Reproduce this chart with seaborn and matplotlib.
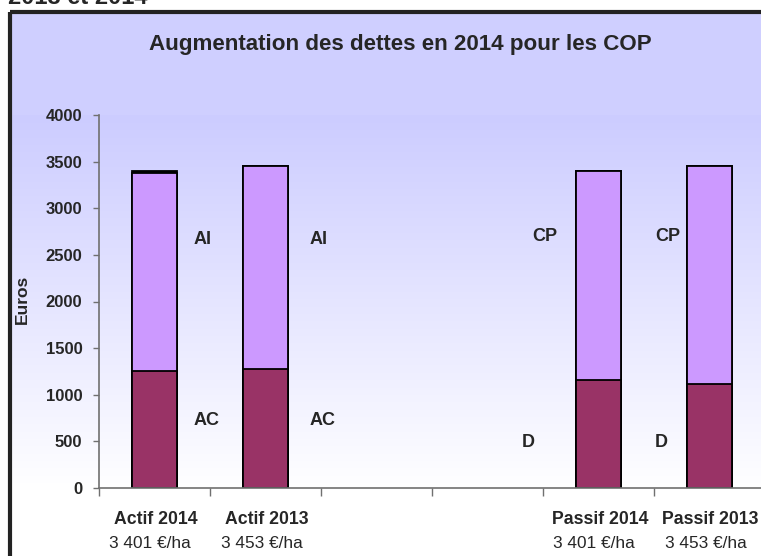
import numpy as np
import pandas as pd
import matplotlib
matplotlib.use("Agg")
import matplotlib.pyplot as plt
import matplotlib.transforms as mtransforms
from matplotlib.patches import Rectangle
import seaborn as sns

# ---------------- data ----------------
categories = ["Actif 2014", "Actif 2013", "vide 1", "vide 2", "Passif 2014", "Passif 2013"]
bar_cats = ["Actif 2014", "Actif 2013", "Passif 2014", "Passif 2013"]
lower_vals = [1255, 1280, 1155, 1115]   # AC (actif) / D (passif)
upper_vals = [2126, 2173, 2246, 2338]   # AI (actif) / CP (passif)
extra_vals = [20, 0, 0, 0]              # thin dark segment on top
tick_names = ["Actif 2014", "Actif 2013", "", "", "Passif 2014", "Passif 2013"]
tick_sub = ["3 401 €/ha", "3 453 €/ha", "", "", "3 401 €/ha", "3 453 €/ha"]
lower_labels = ["AC", "AC", "D", "D"]
upper_labels = ["AI", "AI", "CP", "CP"]
yticks = [0, 500, 1000, 1500, 2000, 2500, 3000, 3500, 4000]
title = "Augmentation des dettes en 2014 pour les COP"

sns.set_theme(style="white")
plt.rcParams["font.family"] = ["Liberation Sans", "DejaVu Sans"]

W, H = 761, 556
fig = plt.figure(figsize=(W / 100, H / 100), dpi=100)
fig.patch.set_facecolor("white")

# ---------------- background frame with gradient ----------------
bg = fig.add_axes([0, 0, 1, 1], zorder=-5)
rows = np.arange(12, H + 10)
top_c = np.array([0.80, 0.80, 1.0])
grad = np.zeros((len(rows), 1, 3))
for k, y in enumerate(rows):
    if y < 115:
        c = np.array([0.815, 0.815, 1.0])
    elif y < 490:
        t = (y - 115) / 375.0
        c = top_c + (np.ones(3) - top_c) * t
    else:
        c = np.ones(3)
    grad[k, 0] = c
bg.imshow(grad, extent=[10, W + 10, H + 10, 12], aspect="auto", interpolation="bilinear")
bg.add_patch(Rectangle((10, 12), W + 20, H + 20, fill=False, edgecolor="#222222", linewidth=3))
bg.set_xlim(0, W)
bg.set_ylim(H, 0)
bg.axis("off")

# ---------------- main axes ----------------
ax = fig.add_axes([99 / W, 1 - 488 / H, 666 / W, 373 / H], zorder=1)
ax.patch.set_alpha(0)

df = pd.DataFrame({
    "cat": bar_cats,
    "lower": lower_vals,
    "mid": [a + b for a, b in zip(lower_vals, upper_vals)],
    "total": [a + b + c for a, b, c in zip(lower_vals, upper_vals, extra_vals)],
})

common = dict(data=df, x="cat", order=categories, width=0.41, saturation=1,
              edgecolor="black", linewidth=1.3, errorbar=None, ax=ax)
sns.barplot(y="total", color="black", **common)
sns.barplot(y="mid", color="#cc99ff", **common)
sns.barplot(y="lower", color="#993366", **common)

ax.set_xlim(-0.5, 5.5)
ax.set_ylim(0, 4000)
ax.set_xlabel("")
ax.set_ylabel("")
ax.set_xticks(np.arange(-0.5, 6, 1))
ax.set_xticklabels([])
ax.set_yticks(yticks)
ax.set_yticklabels([str(v) for v in yticks], fontweight="bold", fontsize=12)
for s in ["top", "right"]:
    ax.spines[s].set_visible(False)
for s in ["left", "bottom"]:
    ax.spines[s].set_color("#707070")
    ax.spines[s].set_linewidth(1.2)
ax.tick_params(axis="x", length=6, width=1, color="#707070", direction="out", bottom=True)
ax.tick_params(axis="y", length=4, width=1, color="#707070", direction="out", left=True, pad=8)
ax.grid(False)

# segment labels
upper_pos = [(0.35, 2670), (1.40, 2670), (3.40, 2692), (4.51, 2692)]
lower_pos = [(0.35, 729), (1.40, 729), (3.31, 493), (4.51, 493)]
for (x, y), t in zip(upper_pos, upper_labels):
    ax.text(x, y, t, ha="left", va="center", fontsize=13, fontweight="bold")
for (x, y), t in zip(lower_pos, lower_labels):
    ax.text(x, y, t, ha="left", va="center", fontsize=13, fontweight="bold")

# category labels
trans = mtransforms.blended_transform_factory(ax.transData, ax.transAxes)
name_off = [0.01, 0.01, 0, 0, 0.02, 0.01]
sub_off = [-0.045, -0.03, 0, 0, -0.045, -0.03]
for i, (n, s) in enumerate(zip(tick_names, tick_sub)):
    if n:
        ax.text(i + name_off[i], (488 - 520) / 373, n, transform=trans, ha="center",
                va="center", fontsize=12.7, fontweight="bold", clip_on=False)
        ax.text(i + sub_off[i], (488 - 543) / 373, s, transform=trans, ha="center",
                va="center", fontsize=12.4, clip_on=False)

# titles
fig.text(400 / W, 1 - 45 / H, title, ha="center", va="center", fontsize=16.1, fontweight="bold")
fig.text(22 / W, 1 - 299 / H, "Euros", ha="center", va="center", rotation=90,
         fontsize=12.5, fontweight="bold")
fig.text(8 / W, 1 - 4 / H, "2013 et 2014", ha="left", va="baseline", fontsize=17,
         fontweight="bold")

fig.savefig("out.png", dpi=100)
